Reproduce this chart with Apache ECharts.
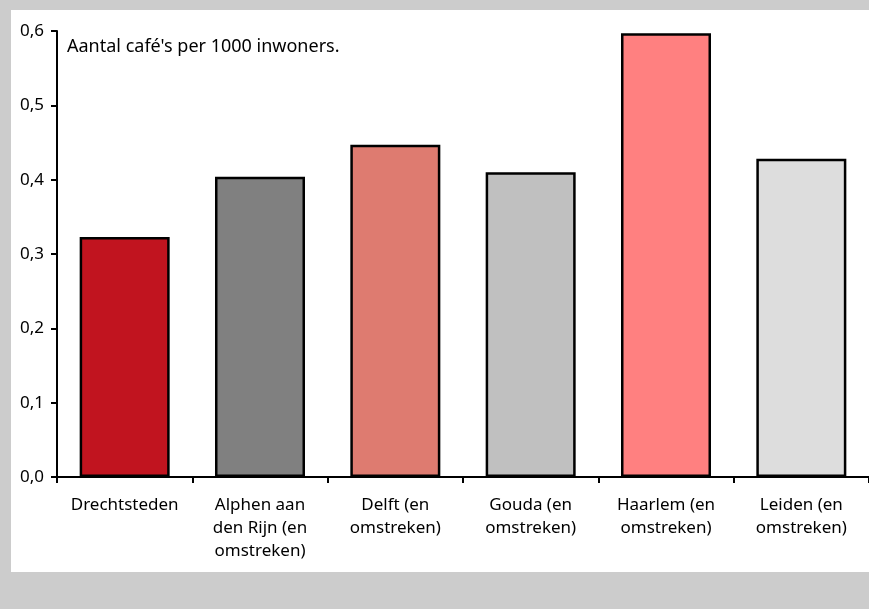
<!DOCTYPE html>
<html><head><meta charset="utf-8">
<script src="https://cdn.jsdelivr.net/npm/echarts@6/dist/echarts.min.js"></script>
<style>html,body{margin:0;padding:0;background:#cccccc;}#c{width:869px;height:609px;}</style>
</head><body><div id="c"></div>
<script>
const categories = ['Drechtsteden', 'Alphen aan\nden Rijn (en\nomstreken)', 'Delft (en\nomstreken)', 'Gouda (en\nomstreken)', 'Haarlem (en\nomstreken)', 'Leiden (en\nomstreken)'];
const values = [0.323, 0.404, 0.447, 0.410, 0.597, 0.428];
const barColors = ['#c1141f', '#808080', '#de7b70', '#c0c0c0', '#ff8080', '#dddddd'];
const noteText = "Aantal café's per 1000 inwoners.";
const FONT = 'Noto Sans';
const chart = echarts.init(document.getElementById('c'));
chart.setOption({
  backgroundColor: '#cccccc',
  animation: false,
  graphic: [
    { type: 'rect', z: -10, shape: { x: 11, y: 10, width: 858, height: 562 }, style: { fill: '#ffffff' } },
    { type: 'text', left: 67, top: 38, style: { text: noteText, fontFamily: FONT, fontSize: 18, fill: '#000' } }
  ],
  grid: { left: 57, top: 31, width: 822, height: 446 },
  xAxis: {
    type: 'category', data: categories,
    axisLine: { lineStyle: { color: '#000', width: 2 } },
    axisTick: { show: true, length: 6, lineStyle: { color: '#000', width: 2 } },
    axisLabel: { color: '#000', fontFamily: FONT, fontSize: 17, lineHeight: 23, margin: 17, interval: 0 }
  },
  yAxis: {
    type: 'value', min: 0, max: 0.6, interval: 0.1,
    splitLine: { show: false },
    axisLine: { show: true, lineStyle: { color: '#000', width: 2 } },
    axisTick: { show: true, length: 6, lineStyle: { color: '#000', width: 2 } },
    axisLabel: { color: '#000', fontFamily: FONT, fontSize: 17, margin: 13, formatter: v => v.toFixed(1).replace('.', ',') }
  },
  series: [{
    type: 'bar', barWidth: 90,
    data: values.map((v, i) => ({ value: v, itemStyle: { color: barColors[i] } })),
    itemStyle: { borderColor: '#000', borderWidth: 2.5 }
  }]
});
</script></body></html>
